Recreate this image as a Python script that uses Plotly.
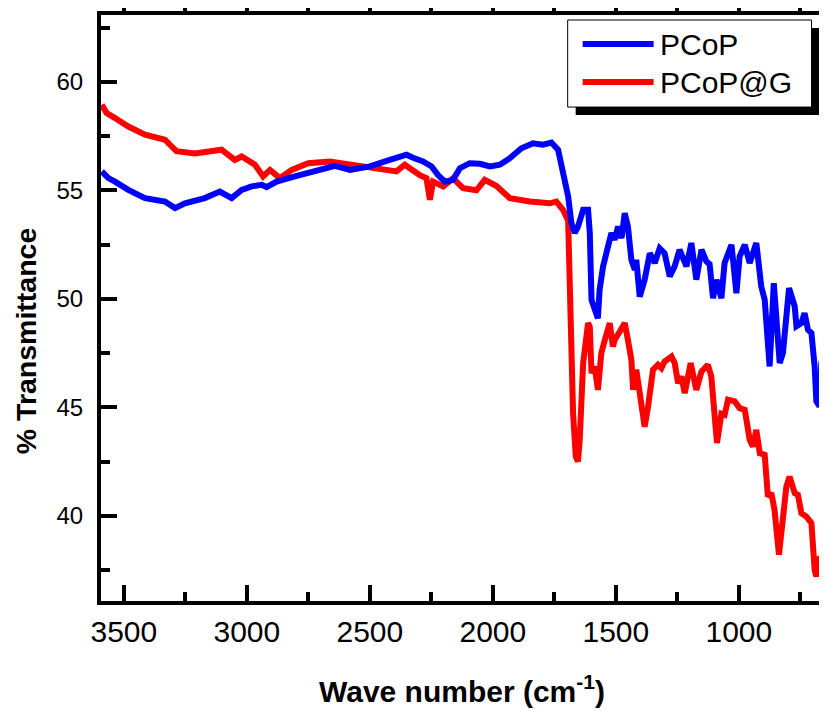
import plotly.graph_objects as go

# ---------------- data ----------------
pcop_wn = [3590, 3563, 3536, 3482, 3414, 3333, 3292, 3252, 3171, 3110, 3062, 3021, 2981, 2940,
           2920, 2879, 2805, 2737, 2642, 2581, 2500, 2419, 2351, 2324, 2284, 2249, 2223, 2195,
           2162, 2134, 2094, 2053, 2012, 1972, 1931, 1884, 1837, 1796, 1762, 1735, 1715, 1708,
           1694, 1681, 1667, 1654, 1633, 1613, 1606, 1599, 1586, 1573, 1566, 1552, 1532, 1518,
           1505, 1491, 1477, 1464, 1451, 1437, 1423, 1417, 1403, 1383, 1362, 1342, 1322, 1302,
           1281, 1261, 1241, 1213, 1193, 1173, 1152, 1132, 1119, 1105, 1091, 1071, 1058, 1030,
           1010, 997, 976, 956, 929, 909, 895, 875, 858, 834, 821, 796, 773, 766, 746, 733, 719,
           705, 692, 685, 672, 665, 651]
pcop_t = [55.87, 55.56, 55.40, 55.02, 54.64, 54.48, 54.18, 54.40, 54.64, 54.94, 54.64, 55.02, 55.18, 55.25,
          55.15, 55.40, 55.64, 55.87, 56.13, 55.94, 56.10, 56.40, 56.64, 56.50, 56.33, 56.10, 55.70, 55.40,
          55.48, 56.02, 56.25, 56.22, 56.10, 56.18, 56.48, 56.94, 57.17, 57.10, 57.20, 56.87, 55.94, 55.48,
          54.72, 53.50, 53.03, 53.33, 54.10, 54.10, 53.03, 49.95, 49.49, 49.10, 50.42, 51.49, 52.41, 53.03,
          52.72, 53.33, 52.80, 53.95, 53.33, 51.80, 51.34, 51.80, 50.10, 50.88, 52.10, 51.65, 52.33, 52.10,
          51.03, 51.49, 52.26, 51.49, 52.57, 50.88, 52.26, 51.72, 51.60, 50.03, 50.88, 50.03, 51.65, 52.49,
          50.26, 51.95, 52.49, 51.65, 52.57, 50.57, 49.95, 46.88, 50.72, 47.04, 47.50, 50.49, 49.65, 48.73,
          48.88, 49.34, 48.57, 48.42, 46.88, 45.27, 45.04, 47.04, 47.65]

pcopg_wn = [3590, 3570, 3536, 3482, 3414, 3333, 3313, 3286, 3211, 3103, 3049, 3021, 2967, 2934,
            2906, 2866, 2818, 2751, 2663, 2527, 2392, 2358, 2324, 2297, 2270, 2256, 2243, 2202,
            2162, 2121, 2067, 2033, 1985, 1931, 1850, 1769, 1742, 1715, 1694, 1688, 1674, 1663,
            1654, 1647, 1633, 1613, 1606, 1599, 1586, 1573, 1559, 1545, 1525, 1512, 1505, 1484,
            1464, 1451, 1437, 1430, 1417, 1403, 1383, 1369, 1349, 1329, 1315, 1302, 1274, 1261,
            1247, 1234, 1220, 1196, 1173, 1152, 1126, 1112, 1098, 1089, 1071, 1058, 1044, 1017,
            997, 976, 956, 943, 929, 915, 895, 882, 868, 855, 837, 821, 807, 794, 773, 760, 746,
            726, 705, 692, 685, 672, 658]
pcopg_t = [58.94, 58.56, 58.33, 57.94, 57.56, 57.33, 57.10, 56.80, 56.70, 56.87, 56.40, 56.56, 56.18, 55.64,
           55.94, 55.56, 55.94, 56.25, 56.33, 56.10, 55.87, 56.18, 55.87, 55.70, 55.56, 54.56, 55.40, 55.18,
           55.55, 55.10, 55.00, 55.48, 55.20, 54.64, 54.48, 54.40, 54.48, 54.10, 53.60, 50.88, 44.73, 42.73,
           42.50, 43.50, 47.04, 48.88, 48.70, 46.57, 46.88, 45.80, 47.50, 48.10, 48.88, 47.80, 48.10, 48.49,
           48.88, 48.10, 47.19, 45.80, 46.73, 45.65, 44.10, 45.04, 46.73, 46.96, 46.80, 47.11, 47.34, 47.04,
           46.11, 46.42, 45.65, 47.04, 45.80, 46.65, 46.96, 46.42, 44.73, 43.35, 44.70, 44.65, 45.35, 45.27,
           44.96, 44.88, 43.50, 43.19, 43.96, 42.88, 42.81, 40.88, 41.04, 40.27, 38.20, 39.80, 41.34, 41.80,
           41.04, 40.97, 40.12, 39.97, 39.66, 37.50, 37.20, 38.10, 37.97]

series_names = ["PCoP", "PCoP@G"]
series_colors = ["#0000FF", "#FF0000"]
x_ticks = [3500, 3000, 2500, 2000, 1500, 1000]
y_ticks = [40, 45, 50, 55, 60]
x_range = [3593, 658]
y_range = [36.07, 63.08]
x_title = "<b>Wave number (cm<sup>-1</sup>)</b>"
y_title = "<b>% Transmittance</b>"

FONT = "Liberation Sans, Arial, sans-serif"

# The page body has the browser's default 8px margin, so the figure is
# laid out in "screen" pixel positions minus this offset.
OFF = 8
W, H = 827 - OFF, 711 - OFF
L, R, T, B = 101 - OFF, 823.5 - OFF, 15 - OFF, 600.7 - OFF


def px(x):  # screen pixel -> paper x
    return (x - OFF - L) / (R - L)


def py(y):  # screen pixel -> paper y
    return (B - (y - OFF)) / (B - T)


fig = go.Figure()
fig.add_trace(go.Scatter(x=pcopg_wn, y=pcopg_t, mode="lines", name=series_names[1],
                         line=dict(color=series_colors[1], width=6), showlegend=False))
fig.add_trace(go.Scatter(x=pcop_wn, y=pcop_t, mode="lines", name=series_names[0],
                         line=dict(color=series_colors[0], width=6), showlegend=False))
# empty helper trace so that the top (outward tick) axis is drawn
fig.add_trace(go.Scatter(x=[], y=[], xaxis="x2", showlegend=False, hoverinfo="skip"))

fig.update_layout(
    template="none",
    width=W, height=H,
    margin=dict(l=L, r=W - R, t=T, b=H - B, autoexpand=False),
    paper_bgcolor="white", plot_bgcolor="white",
    font=dict(family=FONT, color="black"),
    showlegend=False,
    xaxis=dict(
        range=x_range, tickmode="array", tickvals=x_ticks, ticktext=[str(v) for v in x_ticks],
        ticks="inside", ticklen=16, tickwidth=3.5, tickcolor="black",
        minor=dict(dtick=250, tick0=0, ticks="inside", ticklen=9, tickwidth=3.5, tickcolor="black"),
        showline=True, linewidth=4, linecolor="black", mirror=True,
        showgrid=False, zeroline=False, automargin=False,
        tickfont=dict(size=30, family=FONT, color="black"), ticklabelstandoff=1,
    ),
    xaxis2=dict(
        range=x_range, overlaying="x", anchor="y", side="top",
        tickmode="linear", tick0=0, dtick=250, ticks="outside", ticklen=10, tickwidth=3.5,
        tickcolor="black", showticklabels=False, showline=False, showgrid=False,
        zeroline=False, automargin=False,
    ),
    yaxis=dict(
        range=y_range, tickmode="array", tickvals=y_ticks, ticktext=[str(v) for v in y_ticks],
        ticks="inside", ticklen=16, tickwidth=3.5, tickcolor="black",
        minor=dict(dtick=2.5, tick0=0, ticks="inside", ticklen=9, tickwidth=3.5, tickcolor="black"),
        showline=True, linewidth=4, linecolor="black", mirror=True,
        showgrid=False, zeroline=False, automargin=False,
        tickfont=dict(size=24, family=FONT, color="black"), ticklabelstandoff=9,
    ),
)

# axis titles
fig.add_annotation(xref="paper", yref="paper", x=px(462.5), y=py(709.5), xanchor="center",
                   yanchor="bottom", text=x_title, showarrow=False,
                   font=dict(size=30, family=FONT, color="black"))
fig.add_annotation(xref="paper", yref="paper", x=px(26), y=py(341), xanchor="center",
                   yanchor="middle", text=y_title, textangle=-90, showarrow=False,
                   font=dict(size=28.5, family=FONT, color="black"))

# legend box with drop shadow, as in the reference
box_l, box_r, box_t, box_b = 568, 812, 20, 107
sh = 8
fig.add_shape(type="rect", xref="paper", yref="paper",
              x0=px(box_l + sh), x1=px(box_r + sh), y0=py(box_b + sh), y1=py(box_t + sh),
              fillcolor="black", line=dict(width=0), layer="above")
fig.add_shape(type="rect", xref="paper", yref="paper",
              x0=px(box_l), x1=px(box_r), y0=py(box_b), y1=py(box_t),
              fillcolor="white", line=dict(color="black", width=1), layer="above")
rows_y = [44, 82]
for name, color, ry in zip(series_names, series_colors, rows_y):
    fig.add_shape(type="line", xref="paper", yref="paper",
                  x0=px(583), x1=px(654), y0=py(ry), y1=py(ry),
                  line=dict(color=color, width=6), layer="above")
    fig.add_annotation(xref="paper", yref="paper", x=px(658.5), y=py(ry + 0.5),
                       xanchor="left", yanchor="middle", text=name, showarrow=False,
                       font=dict(size=30, family=FONT, color="black"))

fig.write_html("out.html")
